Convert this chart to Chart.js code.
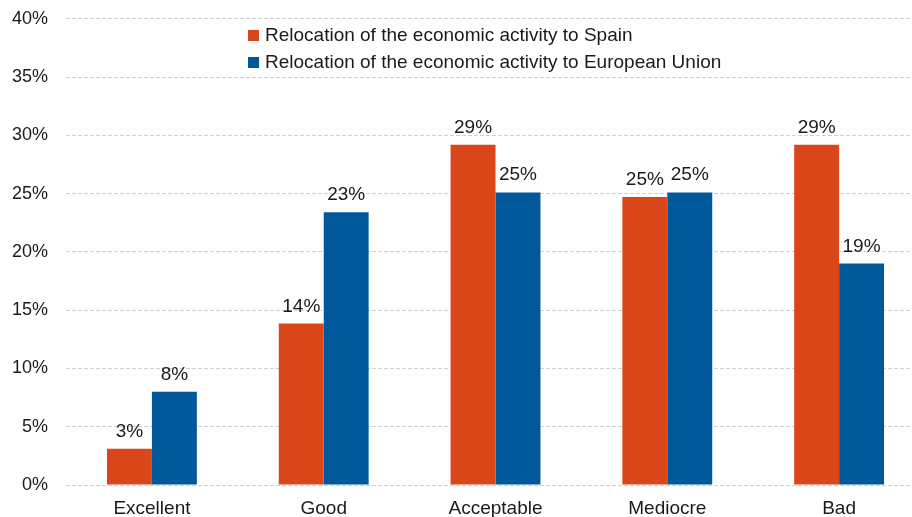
<!DOCTYPE html>
<html>
<head>
<meta charset="utf-8">
<script src="https://cdn.jsdelivr.net/npm/chart.js@4.4.1/dist/chart.umd.min.js"></script>
<style>
  html, body { margin: 0; padding: 0; background: #fff; overflow: hidden; }
  #wrap { width: 912px; height: 517px; position: relative; overflow: hidden; }
  #chart { position: absolute; left: -17px; top: -10px; }
</style>
</head>
<body>
<div id="wrap"><canvas id="chart" width="942" height="537"></canvas></div>
<script>
const categories = ['Excellent', 'Good', 'Acceptable', 'Mediocre', 'Bad'];
const spainValues = [3.1, 13.85, 29.2, 24.7, 29.2];
const euValues = [8.0, 23.4, 25.1, 25.1, 19.0];
const seriesNames = [
    'Relocation of the economic activity to Spain',
    'Relocation of the economic activity to European Union'
];

const FONT = '"Liberation Sans", Arial, sans-serif';
// desplazamiento del canvas dentro del contenedor
const OFF_X = 17, OFF_Y = 10;

// etiquetas encima de cada barra
const valueLabels = {
    id: 'valueLabels',
    afterDatasetsDraw(chart) {
        const ctx = chart.ctx;
        ctx.save();
        ctx.font = '19px ' + FONT;
        ctx.fillStyle = '#1a1a1a';
        ctx.textAlign = 'center';
        ctx.textBaseline = 'alphabetic';
        chart.data.datasets.forEach((ds, i) => {
            chart.getDatasetMeta(i).data.forEach((bar, j) => {
                ctx.fillText(Math.round(ds.data[j]) + '%', bar.x, bar.y - 12);
            });
        });
        ctx.restore();
    }
};

// leyenda dentro del area del grafico
const innerLegend = {
    id: 'innerLegend',
    afterDraw(chart) {
        const ctx = chart.ctx;
        ctx.save();
        ctx.font = '19px ' + FONT;
        ctx.textBaseline = 'middle';
        chart.data.datasets.forEach((ds, i) => {
            const y = OFF_Y + 35 + i * 27;
            ctx.fillStyle = ds.backgroundColor;
            ctx.fillRect(OFF_X + 248, y - 5, 11, 11);
            ctx.fillStyle = '#1a1a1a';
            ctx.fillText(ds.label, OFF_X + 265, y + 1);
        });
        ctx.restore();
    }
};

new Chart(document.getElementById('chart'), {
    type: 'bar',
    data: {
        labels: categories,
        datasets: [{
            label: seriesNames[0],
            data: spainValues,
            backgroundColor: '#D9461A'
        }, {
            label: seriesNames[1],
            data: euValues,
            backgroundColor: '#00589B'
        }]
    },
    options: {
        responsive: false,
        animation: false,
        layout: { padding: { left: 11, right: 0, top: 0, bottom: 10 } },
        datasets: {
            bar: { categoryPercentage: 0.523, barPercentage: 1 }
        },
        plugins: {
            legend: { display: false },
            tooltip: { enabled: false }
        },
        scales: {
            x: {
                grid: { display: false, drawTicks: false },
                border: { display: false },
                ticks: { color: '#1a1a1a', font: { family: FONT, size: 19 }, padding: 12, maxRotation: 0 },
                afterFit(scale) { scale.height = 32; }
            },
            y: {
                min: 0,
                max: 40,
                grid: { color: '#d0d0d0', lineWidth: 1, drawTicks: false },
                border: { display: false, dash: [4, 2] },
                ticks: {
                    stepSize: 5,
                    color: '#1a1a1a',
                    padding: 18,
                    font: { family: FONT, size: 18 },
                    callback: v => v + '%'
                }
            }
        }
    },
    plugins: [valueLabels, innerLegend]
});
</script>
</body>
</html>
